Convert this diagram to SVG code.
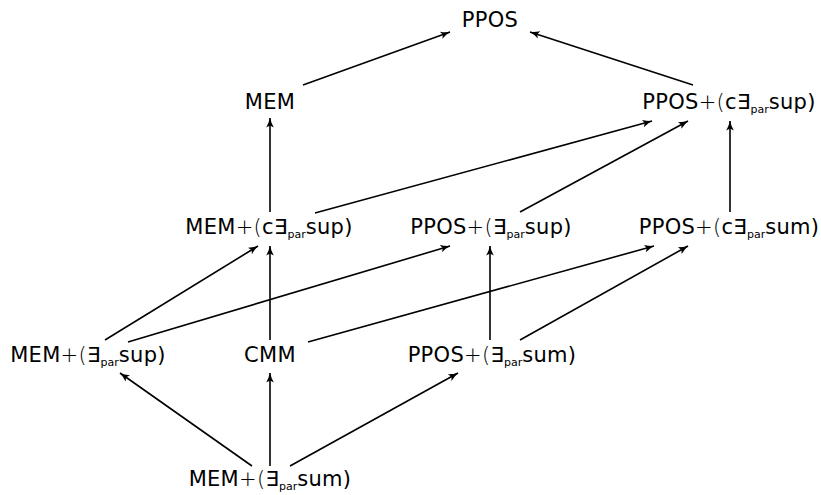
<svg xmlns="http://www.w3.org/2000/svg" width="821" height="495" viewBox="0 0 821 495">
<style>
text{font-family:"DejaVu Sans","Liberation Sans",sans-serif;font-size:21px;fill:#000;text-anchor:middle;letter-spacing:0.3px}
.p{font-weight:300}
.s{font-size:11px;letter-spacing:0}
.e{stroke:#000;stroke-width:1.6;fill:none;marker-end:url(#ah)}
</style>
<defs>
<marker id="ah" viewBox="0 0 10 10" refX="9.5" refY="5" markerWidth="10" markerHeight="10" markerUnits="userSpaceOnUse" orient="auto">
<path d="M0,1.2 Q5,4 10,5 Q5,6 0,8.8 L2,5 Z" fill="#000"/>
</marker>
</defs>
<rect width="821" height="495" fill="#fff"/>
<g id="edges">
<line class="e" x1="303" y1="85" x2="450" y2="32"/>
<line class="e" x1="693" y1="85" x2="530" y2="32"/>
<line class="e" x1="270" y1="212" x2="270" y2="118"/>
<line class="e" x1="315" y1="213" x2="652" y2="121"/>
<line class="e" x1="520" y1="212" x2="688" y2="121"/>
<line class="e" x1="730" y1="212" x2="730" y2="121"/>
<line class="e" x1="105" y1="340" x2="258" y2="246"/>
<line class="e" x1="128" y1="342" x2="450" y2="246"/>
<line class="e" x1="270" y1="340" x2="270" y2="246"/>
<line class="e" x1="308" y1="342" x2="654" y2="246"/>
<line class="e" x1="490" y1="340" x2="490" y2="246"/>
<line class="e" x1="520" y1="340" x2="688" y2="246"/>
<line class="e" x1="252" y1="466" x2="120" y2="373"/>
<line class="e" x1="270" y1="466" x2="270" y2="373"/>
<line class="e" x1="290" y1="466" x2="458" y2="373"/>
</g>
<g id="ppos"><text x="490" y="27">PPOS</text></g>
<g id="mem"><text x="270" y="109">MEM</text></g>
<g id="ppos-cexsup"><text x="729" y="109">PPOS<tspan class="p">+(</tspan>c∃<tspan class="s" dy="4">par</tspan><tspan dy="-4">sup)</tspan></text></g>
<g id="mem-cexsup"><text x="269" y="234">MEM<tspan class="p">+(</tspan>c∃<tspan class="s" dy="4">par</tspan><tspan dy="-4">sup)</tspan></text></g>
<g id="ppos-exsup"><text x="491" y="234">PPOS<tspan class="p">+(</tspan>∃<tspan class="s" dy="4">par</tspan><tspan dy="-4">sup)</tspan></text></g>
<g id="ppos-cexsum"><text x="729" y="234">PPOS<tspan class="p">+(</tspan>c∃<tspan class="s" dy="4">par</tspan><tspan dy="-4">sum)</tspan></text></g>
<g id="mem-exsup"><text x="88" y="362">MEM<tspan class="p">+(</tspan>∃<tspan class="s" dy="4">par</tspan><tspan dy="-4">sup)</tspan></text></g>
<g id="cmm"><text x="270" y="362">CMM</text></g>
<g id="ppos-exsum"><text x="492" y="362">PPOS<tspan class="p">+(</tspan>∃<tspan class="s" dy="4">par</tspan><tspan dy="-4">sum)</tspan></text></g>
<g id="mem-exsum"><text x="270" y="486">MEM<tspan class="p">+(</tspan>∃<tspan class="s" dy="4">par</tspan><tspan dy="-4">sum)</tspan></text></g>
</svg>
